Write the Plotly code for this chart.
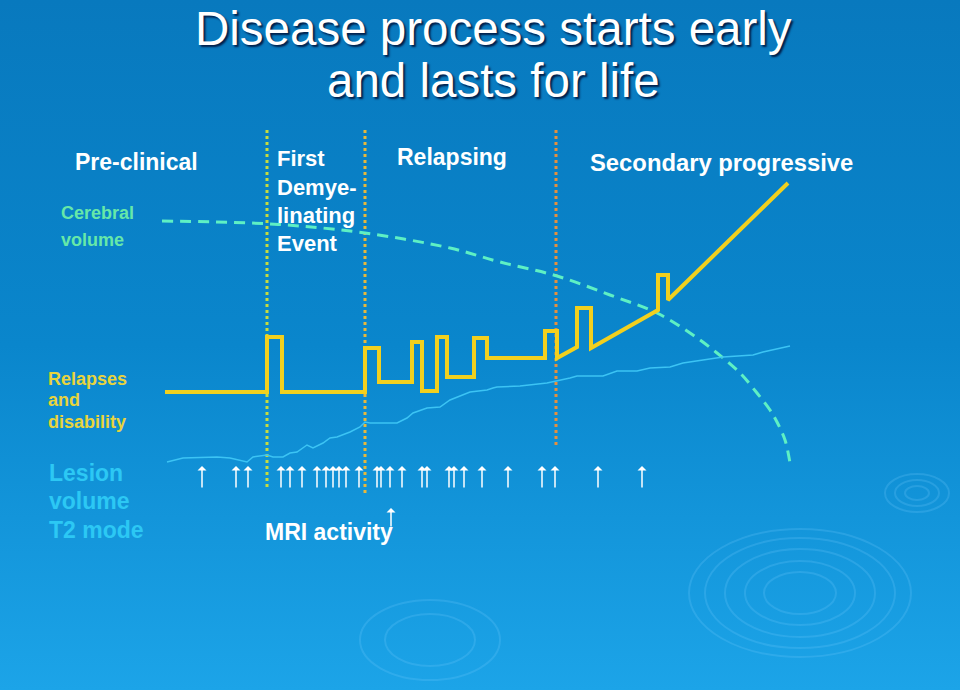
import plotly.graph_objects as go

W, H = 960, 690

# relapses and disability (yellow step line)
relapse_x = [165, 267, 267, 282, 282, 365, 365, 379, 379, 412, 412, 422, 422, 437, 437, 447, 447,
             474, 474, 487, 487, 545, 545, 557, 557, 577, 577, 591, 591, 658, 658, 668, 668, 788]
relapse_y = [392, 392, 337, 337, 392, 392, 348, 348, 382, 382, 342, 342, 391, 391, 337, 337, 377,
             377, 338, 338, 358, 358, 331, 331, 358, 347, 308, 308, 348, 310, 275, 275, 300, 183]

# lesion volume T2 (thin light blue line)
lesion_x = [167, 183, 217, 230, 247, 253, 267, 273, 283, 290, 297, 303, 307, 313, 323, 330, 337,
            350, 360, 365, 370, 397, 407, 413, 427, 440, 450, 470, 487, 493, 497, 520, 547, 570,
            577, 603, 617, 637, 650, 670, 683, 703, 723, 753, 763, 790]
lesion_y = [462, 458, 457, 458, 462, 457, 455, 457, 457, 453, 452, 448, 445, 448, 443, 438, 437,
            432, 427, 422, 423, 423, 418, 413, 408, 407, 400, 392, 390, 388, 387, 386, 383, 378,
            376, 376, 371, 371, 368, 367, 363, 360, 357, 355, 352, 346]

# cerebral volume (dashed green curve)
cerebral_x = [162, 250, 300, 365, 450, 500, 557, 610, 657, 690, 717, 740, 757, 770, 777, 785, 790]
cerebral_y = [221, 223, 226, 233, 248, 262, 276, 295, 313, 333, 353, 373, 393, 410, 422, 440, 463]

# phase boundaries
phase_x = [267, 365, 556]
phase_top = [130, 130, 130]
phase_bottom = [489, 493, 445]
phase_colors = ["#c8dc3c", "#e8b83a", "#e8903c"]

# MRI activity arrows
mri_x = [202, 236, 248, 281, 290, 302, 317, 326, 333, 339, 346, 359, 377, 381, 390, 402,
         422, 427, 449, 454, 464, 482, 508, 542, 555, 598, 642]
mri_tip, mri_tail = 466, 489
extra_arrow = (391, 508, 528)

labels = [
    ("Pre-clinical", 73, 162, 23, "white"),
    ("Cerebral", 59, 213, 18, "#66e8a8"),
    ("volume", 59, 240, 18, "#66e8a8"),
    ("First", 275, 158, 22, "white"),
    ("Demye-", 275, 187, 22, "white"),
    ("linating", 275, 215, 22, "white"),
    ("Event", 275, 243, 22, "white"),
    ("Relapsing", 395, 157, 23, "white"),
    ("Secondary progressive", 588, 162, 23.8, "white"),
    ("Relapses", 46, 379, 18, "#e8d43c"),
    ("and", 46, 400, 18, "#e8d43c"),
    ("disability", 46, 422, 18, "#e8d43c"),
    ("Lesion", 47, 473, 23, "#2cc8f4"),
    ("volume", 47, 501, 23, "#2cc8f4"),
    ("T2 mode", 47, 530, 23, "#2cc8f4"),
    ("MRI activity", 263, 532, 23, "white"),
]

# decorative ripples: (cx, cy, rx, ry)
ripples = [(800, 593, 111, 64), (800, 593, 95, 55), (800, 593, 75, 44), (800, 593, 55, 32),
           (800, 593, 36, 21), (917, 493, 32, 19), (917, 493, 22, 13), (917, 493, 12, 7),
           (430, 640, 70, 40), (430, 640, 45, 26)]

fig = go.Figure()

# gradient background
fig.add_trace(go.Scatter(
    x=[0, W, W, 0, 0], y=[0, 0, H, H, 0], fill="toself", mode="none",
    fillgradient=dict(type="vertical", start=0, stop=H,
                      colorscale=[[0, "#0879be"], [0.5, "#0a86cc"], [1, "#1ca4e8"]]),
    hoverinfo="skip", showlegend=False,
))

for x, y0, y1, c in zip(phase_x, phase_top, phase_bottom, phase_colors):
    fig.add_trace(go.Scatter(x=[x, x], y=[y0, y1], mode="lines",
                             line=dict(color=c, width=3, dash="dot"),
                             hoverinfo="skip", showlegend=False))

fig.add_trace(go.Scatter(x=cerebral_x, y=cerebral_y, mode="lines",
                         line=dict(color="#5ef0c4", width=3, dash="11px,7px", shape="spline"),
                         hoverinfo="skip", showlegend=False))
fig.add_trace(go.Scatter(x=lesion_x, y=lesion_y, mode="lines",
                         line=dict(color="#3cc4f4", width=1.5),
                         hoverinfo="skip", showlegend=False))
fig.add_trace(go.Scatter(x=relapse_x, y=relapse_y, mode="lines",
                         line=dict(color="#f2d01e", width=4),
                         hoverinfo="skip", showlegend=False))

title_font = dict(family="Liberation Sans", size=47.5, color="white",
                  shadow="2px 2px 2px rgba(0,20,60,0.9)")
annotations = [
    dict(text="Disease process starts early", x=493, y=28, showarrow=False, font=title_font),
    dict(text="and lasts for life", x=493, y=80, showarrow=False, font=title_font),
]
for text, x, y, size, color in labels:
    annotations.append(dict(text="<b>%s</b>" % text, x=x, y=y, xanchor="left", yanchor="middle",
                            showarrow=False, font=dict(family="Liberation Sans", size=size, color=color)))

for x in mri_x:
    annotations.append(dict(text="", x=x, y=mri_tip, ax=x, ay=mri_tail, axref="x", ayref="y",
                            showarrow=True, arrowhead=1, arrowsize=1, arrowwidth=1.5,
                            arrowcolor="white"))
annotations.append(dict(text="", x=extra_arrow[0], y=extra_arrow[1], ax=extra_arrow[0],
                        ay=extra_arrow[2], axref="x", ayref="y", showarrow=True, arrowhead=1,
                        arrowsize=1, arrowwidth=1.5, arrowcolor="white"))

shapes = [dict(type="circle", xref="x", yref="y", x0=cx - rx, x1=cx + rx, y0=cy - ry, y1=cy + ry,
               line=dict(color="rgba(120,205,255,0.22)", width=2), layer="above")
          for cx, cy, rx, ry in ripples]

fig.update_layout(
    width=W, height=H,
    margin=dict(l=0, r=0, t=0, b=0),
    paper_bgcolor="#0a86cc", plot_bgcolor="#0a86cc",
    xaxis=dict(range=[0, W], visible=False, fixedrange=True),
    yaxis=dict(range=[H, 0], visible=False, fixedrange=True),
    annotations=annotations,
    shapes=shapes,
    showlegend=False,
)

fig.write_html("out.html", config={"displayModeBar": False},
               post_script="document.body.style.margin='0';")
